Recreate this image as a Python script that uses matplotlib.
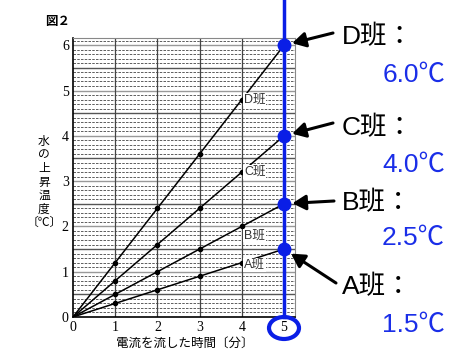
import matplotlib.pyplot as plt
import numpy as np
from matplotlib.patches import Ellipse

plt.rcParams['font.family'] = ['Liberation Serif', 'Noto Sans CJK JP']

# data
minutes = [0, 1, 2, 3, 4, 5]
groups = ["A班", "B班", "C班", "D班"]
temps = {
    "A班": [0, 0.3, 0.6, 0.9, 1.2, 1.5],
    "B班": [0, 0.5, 1.0, 1.5, 2.0, 2.5],
    "C班": [0, 0.8, 1.6, 2.4, 3.2, 4.0],
    "D班": [0, 1.2, 2.4, 3.6, 4.8, 6.0],
}
final_labels = ["1.5℃", "2.5℃", "4.0℃", "6.0℃"]
label_pos = {"A班": (4.05, 1.15), "B班": (4.05, 1.8), "C班": (4.05, 3.2), "D班": (4.05, 4.8)}

W, H = 449, 351
fig = plt.figure(figsize=(W / 100, H / 100), dpi=100)
ax = fig.add_axes([73 / W, 1 - 317 / H, 222 / W, 279 / H])
ax.set_xlim(0, 5.26)
ax.set_ylim(0, 6.16)

# grid
for y in np.arange(0.1, 6.16, 0.1):
    if abs(y * 2 - round(y * 2)) < 1e-6:
        ax.axhline(y, color="#555555" if abs(y - round(y)) > 0.1 else "#999999", lw=1.0, zorder=1)
    else:
        ax.axhline(y, color="#444444", lw=0.6, ls=(0, (3, 1.5)), zorder=1)
for x in range(1, 6):
    ax.axvline(x, color="#444444", lw=0.9, zorder=1)

for s in ["top", "right"]:
    ax.spines[s].set_color("#888888")
for s in ["left", "bottom"]:
    ax.spines[s].set_linewidth(1.2)

ax.set_xticks(minutes)
ax.set_yticks(range(0, 7))
ax.tick_params(length=0, labelsize=10, pad=3)
ax.set_xticklabels([str(m) for m in minutes])

# lines
for g in groups:
    ax.plot(minutes, temps[g], color="black", lw=1.1, zorder=3)
    ax.plot(minutes[1:5], temps[g][1:5], "o", color="black", ms=3, zorder=4)
    lx, ly = label_pos[g]
    ax.text(lx, ly, g, fontsize=9, family=["Liberation Sans", "Noto Sans CJK JP"],
            ha="left", va="center", color="#333333", zorder=5,
            bbox=dict(facecolor="white", edgecolor="none", pad=0.5))

# axis labels
fig.text(44 / W, 1 - 182 / H, "水\nの\n上\n昇\n温\n度\n〔℃〕", ha="center", va="center",
         fontsize=8.5, linespacing=1.05, family=["Noto Sans CJK JP", "DejaVu Sans"])
fig.text(185 / W, 1 - 343 / H, "電流を流した時間〔分〕", ha="center", va="center",
         fontsize=9, family=["Noto Sans CJK JP"])
fig.text(45 / W, 1 - 21 / H, "図２", ha="left", va="center", fontsize=9,
         family=["Noto Sans CJK JP"], weight="bold")

# blue highlight at 5 minutes
ax.axvline(5, ymin=0, ymax=317 / 279, color="#0a1ee6", lw=2.5, clip_on=False, zorder=6)
finals = [temps[g][5] for g in groups]
ax.plot([5] * 4, finals, "o", color="#0a1ee6", ms=9, zorder=7, clip_on=False)
fig.patches.append(Ellipse((284 / W, 1 - 328 / H), 30 / W, 22 / H, transform=fig.transFigure,
                           fill=False, edgecolor="#0a1ee6", lw=3))

# annotations on the right
txt_y = {"D班": (37, 75), "C班": (128, 165), "B班": (203, 238), "A班": (287, 325)}
arrow_from = {"D班": (333, 33), "C班": (333, 123), "B班": (334, 201), "A班": (336, 283)}
for g, val in zip(groups, final_labels):
    ty, vy = txt_y[g]
    fig.text(342 / W, 1 - ty / H, g + "：", ha="left", va="center", fontsize=19,
             family=["Liberation Sans", "Noto Sans CJK JP"], color="black")
    fig.text(445 / W, 1 - vy / H, val, ha="right", va="center", fontsize=19,
             family=["Liberation Sans", "Noto Sans CJK JP"], color="#1a2ee8")
    fx, fy = arrow_from[g]
    ax.annotate("", xy=(5, temps[g][5]), xycoords="data",
                xytext=(fx / W, 1 - fy / H), textcoords="figure fraction",
                arrowprops=dict(arrowstyle="-|>,head_length=0.8,head_width=0.45",
                                color="black", lw=2.2, shrinkA=0, shrinkB=6), zorder=8)

fig.savefig("out.png", dpi=100)
